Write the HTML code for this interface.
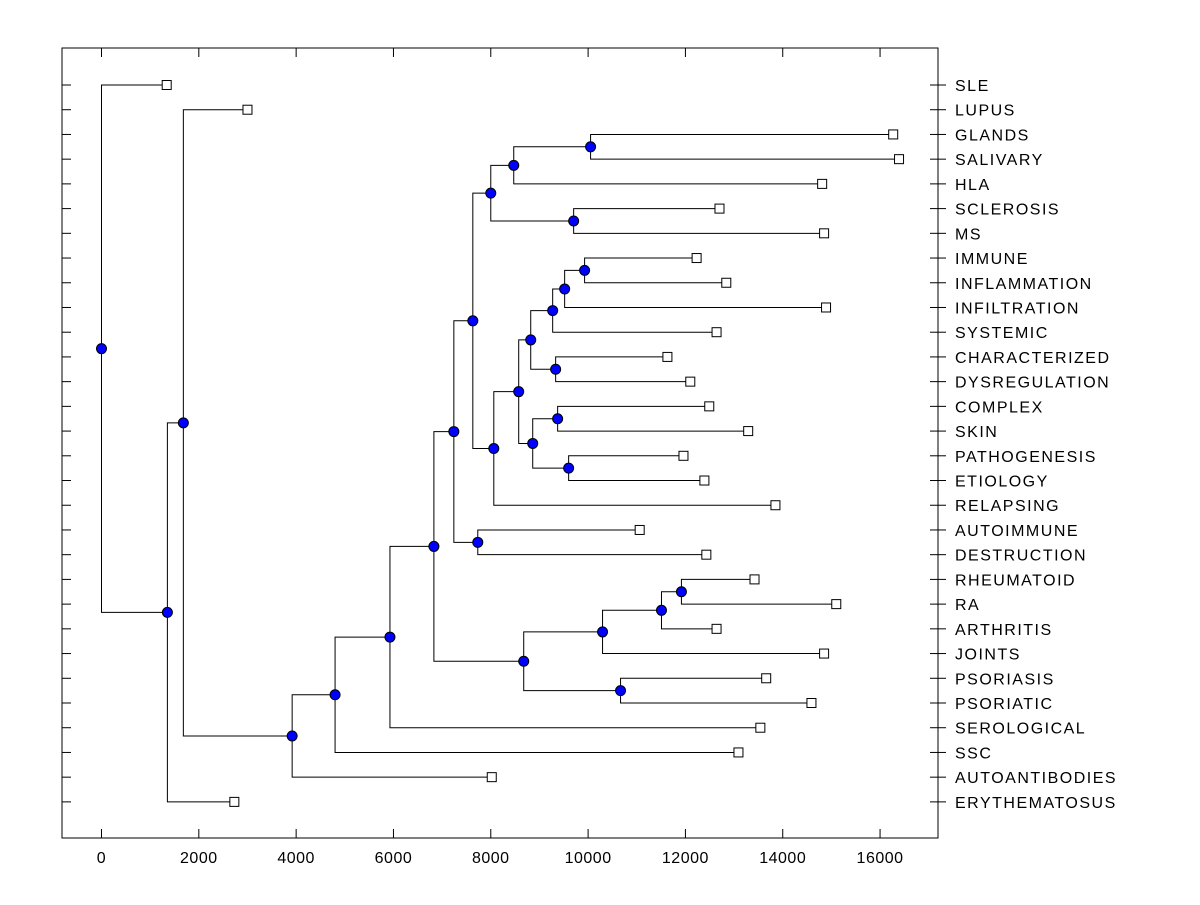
<!DOCTYPE html>
<html><head><meta charset="utf-8"><style>
body{margin:0;background:#fff}
svg text{font-family:"Liberation Sans",Arial,sans-serif}
</style></head><body>
<svg id="chart" width="1200" height="900" xmlns="http://www.w3.org/2000/svg"></svg>
<script>
const leafNames=["SLE","LUPUS","GLANDS","SALIVARY","HLA","SCLEROSIS","MS","IMMUNE","INFLAMMATION","INFILTRATION","SYSTEMIC","CHARACTERIZED","DYSREGULATION","COMPLEX","SKIN","PATHOGENESIS","ETIOLOGY","RELAPSING","AUTOIMMUNE","DESTRUCTION","RHEUMATOID","RA","ARTHRITIS","JOINTS","PSORIASIS","PSORIATIC","SEROLOGICAL","SSC","AUTOANTIBODIES","ERYTHEMATOSUS"];
const leafValues=[1340,3000,16270,16390,14810,12700,14850,12230,12840,14890,12640,11630,12100,12490,13290,11960,12390,13850,11060,12430,13420,15100,12640,14850,13660,14590,13540,13090,8020,2730];
const nodeNames=["root","n1","n2","n3","n4","n5","n6","n7","n9","n11","n13","n15","n14","n12","n16","n17","n19","n21","n22","n20","n18","n23","n24","n10","n8","n25","n27","n28","n26"];
const nodeValues=[0,1354,1682,3918,4800,5928,6831,7241,7631,8000,8472,10051,9703,8062,8574,8821,9272,9518,9928,9333,8862,9374,9600,7733,8677,10297,11508,11918,10667];
const nodeChildren=[[0,"n1"],["n2",29],[1,"n3"],["n4",28],["n5",27],["n6",26],["n7","n8"],["n9","n10"],["n11","n12"],["n13","n14"],["n15",4],[2,3],[5,6],["n16",17],["n17","n18"],["n19","n20"],["n21",10],["n22",9],[7,8],[11,12],["n23","n24"],[13,14],[15,16],[18,19],["n25","n26"],["n27",23],["n28",22],[20,21],[24,25]];
const xTicks=[0,2000,4000,6000,8000,10000,12000,14000,16000];

const svg=document.getElementById('chart');
const NS="http://www.w3.org/2000/svg";
const L=62,R=938,T=48,B=838;
const xs=v=>101.5+v*0.04866;
const ys=i=>85+i*24.72;
function mk(tag,attrs,name){const e=document.createElementNS(NS,tag);for(const k in attrs)e.setAttribute(k,attrs[k]);


svg.appendChild(e);return e;}
mk('rect',{x:L,y:T,width:R-L,height:B-T,fill:'none',stroke:'#000','stroke-width':1},'plot-frame');
xTicks.forEach(t=>{const x=xs(t);
mk('line',{x1:x,x2:x,y1:B,y2:B-9,stroke:'#000'},'x-tick');
mk('line',{x1:x,x2:x,y1:T,y2:T+9,stroke:'#000'},'x-tick-top');
const tx=mk('text',{x:x,y:863,'text-anchor':'middle','font-size':16,'letter-spacing':0.5},'x-tick-label');tx.textContent=t;});
leafNames.forEach((n,i)=>{const y=ys(i);
mk('line',{x1:L,x2:L+9,y1:y,y2:y,stroke:'#000'},'y-tick');
mk('line',{x1:R-8,x2:R+8,y1:y,y2:y,stroke:'#000'},'y-tick-right');
const tx=mk('text',{x:955,y:y+6,'font-size':16,'letter-spacing':1.5},'leaf-label');tx.textContent=n;});
const pos={};
function getPos(c){
 if(typeof c==='number')return {x:xs(leafValues[c]),y:ys(c)};
 if(pos[c])return pos[c];
 const k=nodeNames.indexOf(c);
 const a=getPos(nodeChildren[k][0]),b=getPos(nodeChildren[k][1]);
 pos[c]={x:xs(nodeValues[k]),y:(a.y+b.y)/2};return pos[c];}
nodeNames.forEach((n,k)=>{const p=getPos(n);
 nodeChildren[k].forEach(c=>{const q=getPos(c);
  mk('polyline',{points:`${p.x},${p.y} ${p.x},${q.y} ${q.x},${q.y}`,fill:'none',stroke:'#000'},'branch');});});
leafNames.forEach((n,i)=>{const p=getPos(i);
 mk('rect',{x:p.x-4.5,y:p.y-4.5,width:9,height:9,fill:'#fff',stroke:'#000'},'leaf-marker');});
nodeNames.forEach(n=>{const p=getPos(n);
 mk('circle',{cx:p.x,cy:p.y,r:5,fill:'#0000ff',stroke:'#000'},'node-marker');});
</script>
</body></html>
